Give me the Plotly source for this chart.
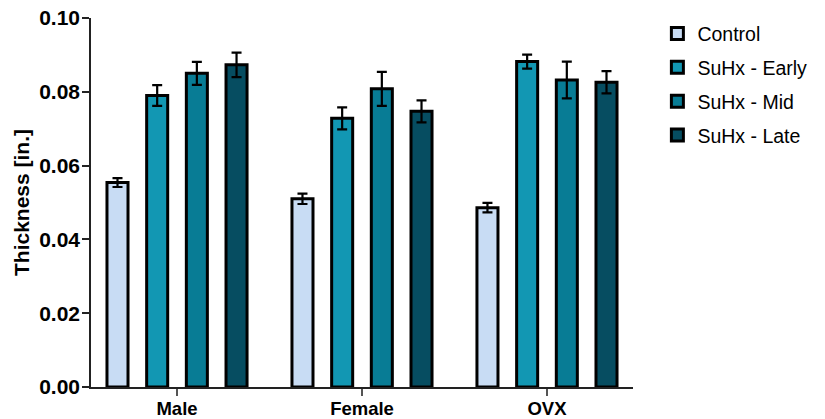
import plotly.graph_objects as go

categories = ["Male", "Female", "OVX"]
series_names = ["Control", "SuHx - Early", "SuHx - Mid", "SuHx - Late"]
control = [0.0554, 0.0510, 0.0486]
early = [0.0790, 0.0728, 0.0882]
mid = [0.0850, 0.0808, 0.0832]
late = [0.0873, 0.0747, 0.0826]
control_err = [0.0012, 0.0014, 0.0013]
early_err = [0.0028, 0.0030, 0.0019]
mid_err = [0.0031, 0.0046, 0.0050]
late_err = [0.0033, 0.0030, 0.0030]
colors = ["#c8dcf4", "#1297b3", "#087c95", "#064d61"]

values = [control, early, mid, late]
errors = [control_err, early_err, mid_err, late_err]

FONT = "Liberation Sans, Arial, sans-serif"

fig = go.Figure()
for i, name in enumerate(series_names):
    fig.add_trace(go.Bar(
        x=categories, y=values[i], name=name,
        legendgroup=name,
        marker=dict(color=colors[i], line=dict(color="#000000", width=3)),
        error_y=dict(type="data", array=errors[i], visible=True,
                     color="#000000", thickness=2.2, width=5),
    ))

fig.update_layout(
    width=825, height=419,
    margin=dict(l=91, r=192, t=18, b=32),
    paper_bgcolor="white", plot_bgcolor="white",
    barmode="group", bargap=0.142, bargroupgap=0.47,
    font=dict(family=FONT, color="#000000"),
    showlegend=True,
    legend=dict(x=1.045, y=1.01, xanchor="left", yanchor="top",
                font=dict(size=19.5, family=FONT), tracegroupgap=5.5,
                bgcolor="rgba(0,0,0,0)"),
)
fig.update_xaxes(
    range=[-0.465, 2.465], showline=True, linecolor="#222222", linewidth=1.5,
    ticks="outside", ticklen=7, tickwidth=1.5, tickcolor="#555555",
    ticklabelstandoff=-3,
    tickfont=dict(size=18.5, family=FONT, weight="bold"),
    showgrid=False, zeroline=False, automargin=False,
)
fig.update_yaxes(
    range=[0, 0.1], tickvals=[0, 0.02, 0.04, 0.06, 0.08, 0.10],
    ticktext=["0.00", "0.02", "0.04", "0.06", "0.08", "0.10"],
    showline=True, linecolor="#222222", linewidth=1.5,
    ticks="outside", ticklen=7, tickwidth=1.5, tickcolor="#222222",
    ticklabelstandoff=-2,
    tickfont=dict(size=21, family=FONT, weight="bold"),
    title=dict(text="Thickness [in.]", font=dict(size=21, family=FONT, weight="bold"), standoff=4),
    showgrid=False, zeroline=False, automargin=False,
)

fig.write_html("out.html")
